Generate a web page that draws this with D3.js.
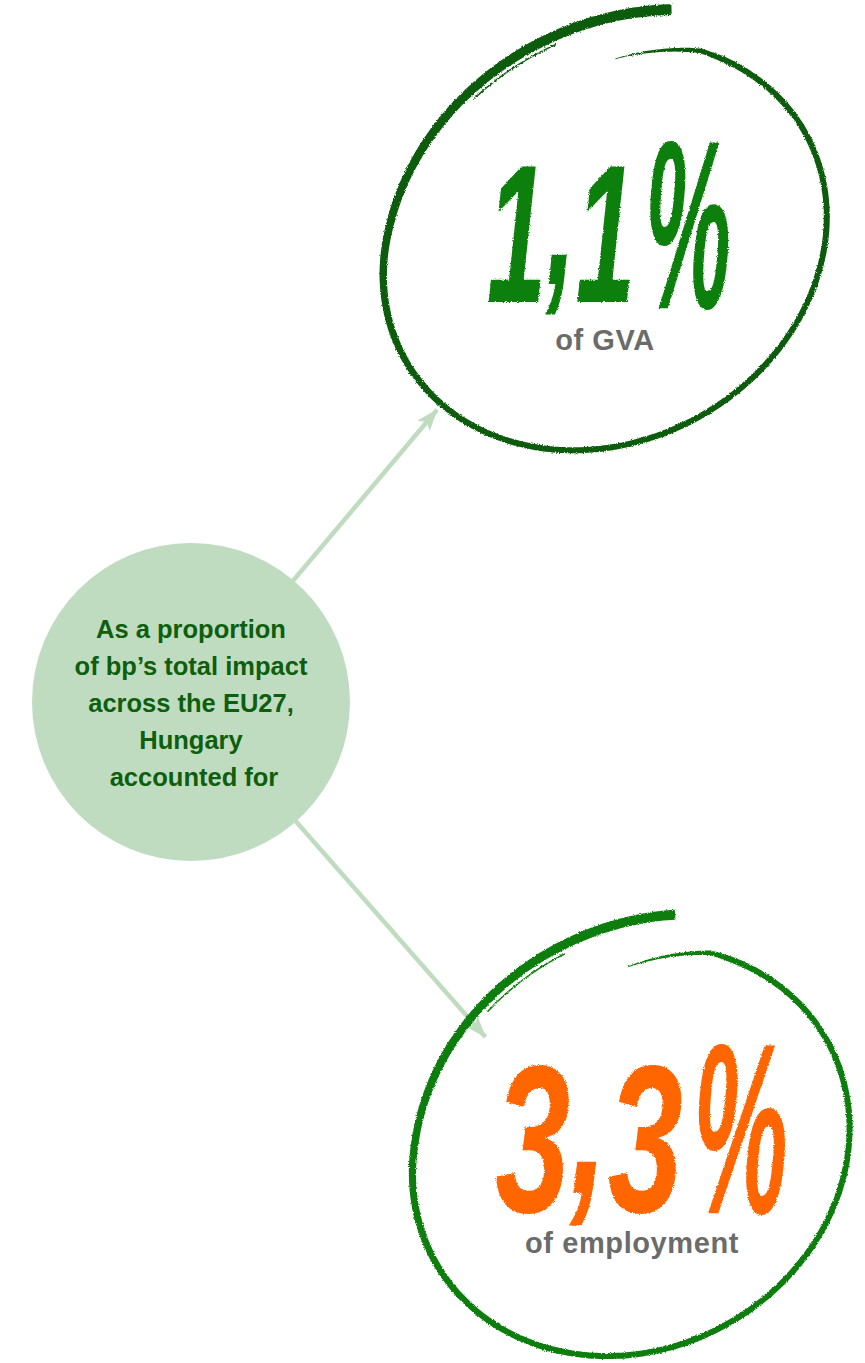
<!DOCTYPE html>
<html>
<head>
<meta charset="utf-8">
<script src="https://cdn.jsdelivr.net/npm/d3@7"></script>
<style>
  html, body { margin: 0; padding: 0; background: #fff; }
  svg { display: block; }
</style>
</head>
<body>
<svg id="chart" width="865" height="1363"></svg>
<script>
// data
var metrics = ["GVA", "employment"];
var shares = [1.1, 3.3];
var introLines = ["As a proportion", "of bp’s total impact", "across the EU27,", "Hungary", "accounted for"];

// layout (screen px) - one entry per metric
var hub = {cx: 191, cy: 702, r: 159};
var rings = [
  {cx: 605, cy: 246, a: 230, b: 195, rot: -30, t0: -61, sweep: 372, s0: 0.92, grow: 0.165,
   wMid: 6, wEnd: 11, stroke: "#0b5c0b", color: "#0a7f0a",
   numX: -118, numW: 148, numY: 56, numSize: 196, pctX: 40, pctW: 86, pctY: 62, pctSize: 242,
   labelX: 0, labelY: 104, arrowAngle: -49.9, arrowLen: 382},
  {cx: 631, cy: 1151, a: 225, b: 198, rot: -30, t0: -64, sweep: 371, s0: 0.905, grow: 0.155,
   wMid: 6, wEnd: 10, stroke: "#0a7d0a", color: "#ff6600",
   numX: -136, numW: 188, numY: 61, numSize: 210, pctX: 62, pctW: 95, pctY: 62, pctSize: 244,
   labelX: 1, labelY: 102, arrowAngle: 48.7, arrowLen: 446}
];

var fmt = d3.formatLocale({decimal: ",", thousands: ".", grouping: [3], currency: ["", "€"]}).format(".1f");

var svg = d3.select("#chart");
var defs = svg.append("defs");

var rough = defs.append("filter").attr("id", "rough")
    .attr("x", "-20%").attr("y", "-20%").attr("width", "140%").attr("height", "140%");
rough.append("feTurbulence").attr("type", "fractalNoise").attr("baseFrequency", 0.9)
    .attr("numOctaves", 2).attr("result", "noise");
rough.append("feDisplacementMap").attr("in", "SourceGraphic").attr("in2", "noise")
    .attr("scale", 3).attr("xChannelSelector", "R").attr("yChannelSelector", "G");

defs.append("marker").attr("id", "head")
    .attr("markerUnits", "userSpaceOnUse")
    .attr("viewBox", "0 0 22 16").attr("refX", 21).attr("refY", 8)
    .attr("markerWidth", 22).attr("markerHeight", 16).attr("orient", "auto")
  .append("path").attr("d", "M0,0 L22,8 L0,16 L5,8 Z").attr("fill", "#c0dcc0");

// arrows from the hub out to each ring
svg.selectAll(".arrow")
  .data(rings)
  .enter().append("line")
    .attr("class", "arrow")
    .attr("x1", function(d) { return hub.cx + hub.r * 0.9 * Math.cos(d.arrowAngle * Math.PI / 180); })
    .attr("y1", function(d) { return hub.cy + hub.r * 0.9 * Math.sin(d.arrowAngle * Math.PI / 180); })
    .attr("x2", function(d) { return hub.cx + d.arrowLen * Math.cos(d.arrowAngle * Math.PI / 180); })
    .attr("y2", function(d) { return hub.cy + d.arrowLen * Math.sin(d.arrowAngle * Math.PI / 180); })
    .attr("stroke", "#c0dcc0")
    .attr("stroke-width", 4.5)
    .attr("marker-end", "url(#head)");

svg.append("circle")
    .attr("cx", hub.cx).attr("cy", hub.cy).attr("r", hub.r)
    .attr("fill", "#c0dcc0");

svg.append("text")
    .attr("text-anchor", "middle")
    .style("font", "bold 25.5px 'Liberation Sans', Arial, sans-serif")
    .attr("fill", "#0d5e0d")
  .selectAll("tspan")
  .data(introLines)
  .enter().append("tspan")
    .attr("x", function(d, i) { return hub.cx + (i === introLines.length - 1 ? 3 : 0); })
    .attr("y", function(d, i) { return 638 + i * 37; })
    .text(function(d) { return d; });

// hand drawn ring: an ellipse that spirals slightly outward at the end
function ringPoints(d) {
  var n = 400, rot = d.rot * Math.PI / 180, t0 = d.t0 * Math.PI / 180, sw = d.sweep * Math.PI / 180;
  return d3.range(n + 1).map(function(i) {
    var u = i / n, t = t0 + sw * u;
    var s = u < 0.06 ? d.s0 + (1 - d.s0) * (u / 0.06) : 1;
    if (u > 0.75) s += d.grow * Math.pow((u - 0.75) / 0.25, 1.6);
    var lx = d.a * s * Math.cos(t), ly = d.b * s * Math.sin(t);
    return {x: d.cx + lx * Math.cos(rot) - ly * Math.sin(rot),
            y: d.cy + lx * Math.sin(rot) + ly * Math.cos(rot), u: u};
  });
}

function ringOutline(d) {
  var pts = ringPoints(d);
  var left = [], right = [];
  pts.forEach(function(p, i) {
    var a = pts[Math.max(0, i - 1)], b = pts[Math.min(pts.length - 1, i + 1)];
    var tx = b.x - a.x, ty = b.y - a.y, len = Math.sqrt(tx * tx + ty * ty) || 1;
    var nx = -ty / len, ny = tx / len;
    var w;
    if (p.u < 0.08) w = 0.8 + (d.wMid - 0.8) * (p.u / 0.08);
    else if (p.u < 0.55) w = d.wMid;
    else w = d.wMid + (d.wEnd - d.wMid) * Math.pow((p.u - 0.55) / 0.45, 1.3);
    left.push([p.x + nx * w / 2, p.y + ny * w / 2]);
    right.push([p.x - nx * w / 2, p.y - ny * w / 2]);
  });
  return d3.line()(left.concat(right.reverse())) + "Z";
}

var ring = svg.selectAll(".ring")
  .data(rings)
  .enter().append("g")
    .attr("class", "ring");

ring.append("path")
    .attr("d", ringOutline)
    .attr("fill", function(d) { return d.stroke; })
    .attr("filter", "url(#rough)");

// dry-brush streak inside the tail
ring.append("path")
    .attr("d", function(d) {
      var pts = ringPoints(d).filter(function(p) { return p.u > 0.86 && p.u < 0.93; });
      var k = 0.96;
      return d3.line()(pts.map(function(p) { return [d.cx + (p.x - d.cx) * k, d.cy + (p.y - d.cy) * k]; }));
    })
    .attr("fill", "none")
    .attr("stroke", function(d) { return d.stroke; })
    .attr("stroke-width", 1.5)
    .attr("filter", "url(#rough)");

var label = ring.append("g")
    .attr("transform", function(d) { return "translate(" + d.cx + "," + d.cy + ")"; });

// number, with the decimal comma lifted so it stays clear of the caption
var num = label.append("text")
    .attr("x", function(d) { return d.numX; })
    .attr("y", function(d) { return d.numY; })
    .attr("textLength", function(d) { return d.numW; })
    .attr("lengthAdjust", "spacingAndGlyphs")
    .attr("fill", function(d) { return d.color; })
    .style("font-family", "'Liberation Sans Narrow', 'Liberation Sans', sans-serif")
    .style("font-weight", "bold")
    .style("font-style", "italic")
    .style("font-size", function(d) { return d.numSize + "px"; })
    .attr("filter", "url(#rough)");

num.selectAll("tspan")
  .data(function(d, i) {
    var s = fmt(shares[i]).split(",");
    return [{t: s[0], dy: 0}, {t: ",", dy: -0.09}, {t: s[1], dy: 0.09}];
  })
  .enter().append("tspan")
    .attr("dy", function(p) { return p.dy + "em"; })
    .text(function(p) { return p.t; });

label.append("text")
    .attr("x", function(d) { return d.pctX; })
    .attr("y", function(d) { return d.pctY; })
    .attr("textLength", function(d) { return d.pctW; })
    .attr("lengthAdjust", "spacingAndGlyphs")
    .attr("fill", function(d) { return d.color; })
    .style("font-family", "'Liberation Sans Narrow', 'Liberation Sans', sans-serif")
    .style("font-weight", "bold")
    .style("font-style", "italic")
    .style("font-size", function(d) { return d.pctSize + "px"; })
    .attr("filter", "url(#rough)")
    .text("%");

label.append("text")
    .attr("x", function(d) { return d.labelX; })
    .attr("y", function(d) { return d.labelY; })
    .attr("text-anchor", "middle")
    .attr("fill", "#6b6b6b")
    .style("font", "bold 29px 'Liberation Sans', Arial, sans-serif")
    .style("letter-spacing", "0.6px")
    .text(function(d, i) { return "of " + metrics[i]; });
</script>
</body>
</html>
